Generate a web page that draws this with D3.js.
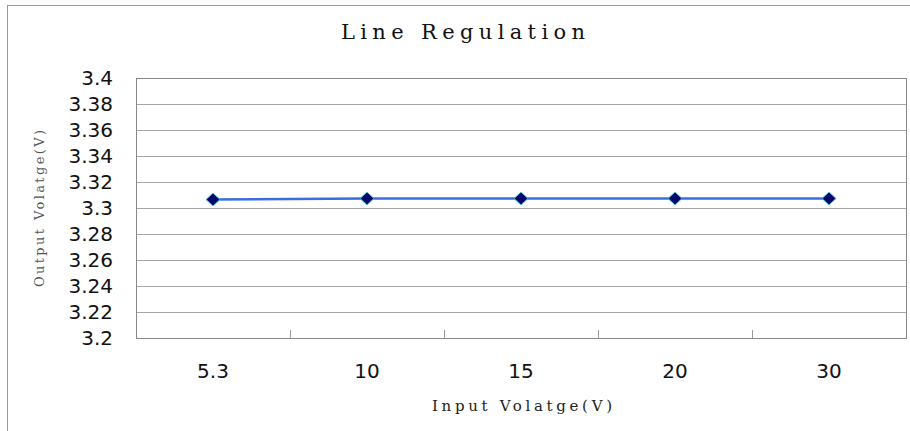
<!DOCTYPE html>
<html>
<head>
<meta charset="utf-8">
<script src="https://cdn.jsdelivr.net/npm/d3@7"></script>
<style>
  body { margin: 0; background: #fff; }
</style>
</head>
<body>
<div id="chart"></div>
<script>
const width = 910;
const height = 431;

// data
const inputVoltage = ["5.3", "10", "15", "20", "30"];
const outputVoltage = [3.3065, 3.3073, 3.3073, 3.3073, 3.3073];
const yTicks = [3.2, 3.22, 3.24, 3.26, 3.28, 3.3, 3.32, 3.34, 3.36, 3.38, 3.4];

const margin = { top: 78, right: 4, bottom: 93, left: 136 };

const svg = d3.select("#chart").append("svg")
    .attr("width", width)
    .attr("height", height);

// outer chart frame
svg.append("rect")
    .attr("x", 7.5).attr("y", 5.5)
    .attr("width", 920).attr("height", 440)
    .attr("fill", "none")
    .attr("stroke", "#999");

const x = d3.scaleBand()
    .domain(inputVoltage)
    .range([margin.left, width - margin.right]);

const y = d3.scaleLinear()
    .domain([3.2, 3.4])
    .range([height - margin.bottom, margin.top]);

// gridlines
svg.append("g")
    .selectAll("line")
    .data(yTicks)
    .join("line")
    .attr("x1", margin.left)
    .attr("x2", width - margin.right)
    .attr("y1", d => Math.round(y(d)) + 0.5)
    .attr("y2", d => Math.round(y(d)) + 0.5)
    .attr("stroke", "#a6a6a6")
    .attr("stroke-width", 1);

// plot border
svg.append("rect")
    .attr("x", margin.left + 0.5)
    .attr("y", Math.round(y(3.4)) + 0.5)
    .attr("width", width - margin.right - margin.left)
    .attr("height", Math.round(y(3.2)) - Math.round(y(3.4)))
    .attr("fill", "none")
    .attr("stroke", "#888");

// y labels
svg.append("g")
    .selectAll("text")
    .data(yTicks)
    .join("text")
    .attr("x", 113)
    .attr("y", d => y(d))
    .attr("dy", "0.36em")
    .attr("text-anchor", "end")
    .attr("font-family", "DejaVu Sans, Verdana, sans-serif")
    .attr("font-size", "20px")
    .attr("fill", "#111")
    .text(d => d3.format("")(+d.toFixed(2)));

// x ticks at band boundaries (pointing up)
const bounds = inputVoltage.slice(1).map(d => x(d));
svg.append("g")
    .selectAll("line")
    .data(bounds)
    .join("line")
    .attr("x1", d => Math.round(d) + 0.5)
    .attr("x2", d => Math.round(d) + 0.5)
    .attr("y1", y(3.2))
    .attr("y2", y(3.2) - 8)
    .attr("stroke", "#999");

// x labels
svg.append("g")
    .selectAll("text")
    .data(inputVoltage)
    .join("text")
    .attr("x", d => x(d) + x.bandwidth() / 2)
    .attr("y", 378)
    .attr("text-anchor", "middle")
    .attr("font-family", "DejaVu Sans, Verdana, sans-serif")
    .attr("font-size", "20px")
    .attr("fill", "#111")
    .text(d => d);

// line
const points = inputVoltage.map((d, i) => ({ cat: d, value: outputVoltage[i] }));
const line = d3.line()
    .x(d => x(d.cat) + x.bandwidth() / 2)
    .y(d => y(d.value));

svg.append("path")
    .datum(points)
    .attr("d", line)
    .attr("fill", "none")
    .attr("stroke", "#3a6de0")
    .attr("stroke-width", 2.5);

// diamond markers
svg.append("g")
    .selectAll("path")
    .data(points)
    .join("path")
    .attr("transform", d => `translate(${x(d.cat) + x.bandwidth() / 2},${y(d.value)})`)
    .attr("d", "M0,-6.5L7,0L0,6.5L-7,0Z")
    .attr("fill", "#000a6e")
    .attr("stroke", "#4fc3d6")
    .attr("stroke-width", 1);

// title
svg.append("text")
    .attr("x", 341)
    .attr("y", 39)
    .attr("textLength", 244)
    .attr("lengthAdjust", "spacing")
    .attr("font-family", "DejaVu Serif, serif")
    .attr("font-size", "21px")
    .attr("fill", "#111")
    .text("Line Regulation");

// axis titles
svg.append("text")
    .attr("x", 432)
    .attr("y", 411)
    .attr("textLength", 180)
    .attr("lengthAdjust", "spacing")
    .attr("font-family", "DejaVu Serif, serif")
    .attr("font-size", "15px")
    .attr("fill", "#222")
    .text("Input Volatge(V)");

svg.append("text")
    .attr("transform", "translate(44,287) rotate(-90)")
    .attr("textLength", 157)
    .attr("lengthAdjust", "spacing")
    .attr("font-family", "DejaVu Serif, serif")
    .attr("font-size", "13px")
    .attr("fill", "#555")
    .text("Output Volatge(V)");
</script>
</body>
</html>
